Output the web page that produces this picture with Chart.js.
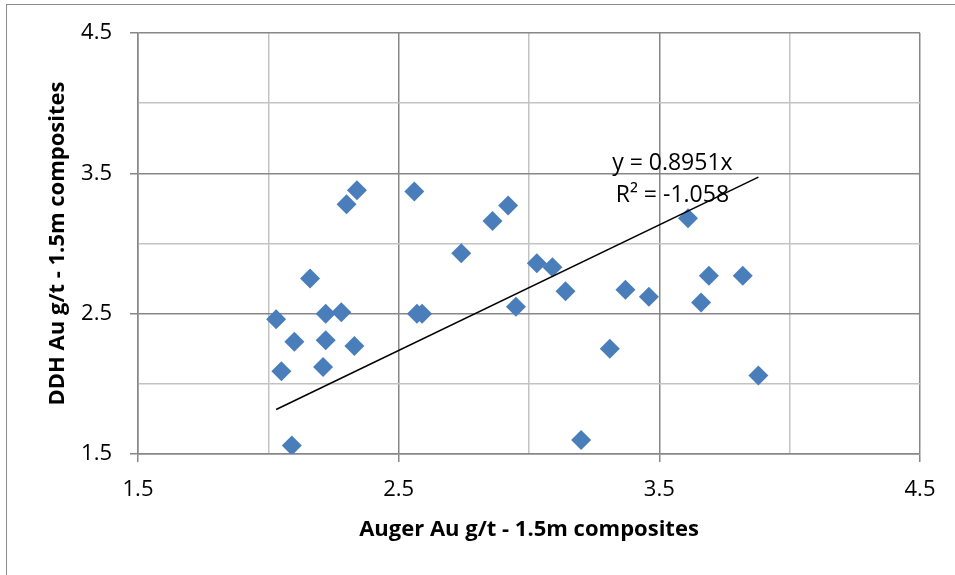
<!DOCTYPE html>
<html>
<head>
<meta charset="utf-8">
<script src="https://cdn.jsdelivr.net/npm/chart.js@4.4.1/dist/chart.umd.min.js"></script>
<style>
  html, body { margin: 0; padding: 0; background: #fff; }
  #wrap { position: relative; width: 955px; height: 575px; }
  #frame { position: absolute; left: 6px; top: 4px; right: -2px; bottom: -2px;
    border-left: 1.5px solid #8c8c8c; border-top: 1.5px solid #8c8c8c; pointer-events: none; }
</style>
</head>
<body>
<div id="wrap">
  <canvas id="chart" width="955" height="575"></canvas>
  <div id="frame"></div>
</div>
<script>
// Auger vs DDH composites (g/t Au)
const augerAu = [2.03, 2.05, 2.10, 2.09, 2.16, 2.22, 2.22, 2.21, 2.28, 2.33, 2.30, 2.34, 2.56, 2.57, 2.59, 2.74,
  2.86, 2.92, 3.03, 3.09, 2.95, 3.14, 3.37, 3.46, 3.31, 3.20, 3.61, 3.69, 3.82, 3.66, 3.88];
const ddhAu = [2.46, 2.09, 2.30, 1.56, 2.75, 2.50, 2.31, 2.12, 2.51, 2.27, 3.28, 3.38, 3.37, 2.50, 2.50, 2.93,
  3.16, 3.27, 2.86, 2.83, 2.55, 2.66, 2.67, 2.62, 2.25, 1.60, 3.18, 2.77, 2.77, 2.58, 2.06];

const trendSlope = 0.8951;
const trendLabel = ['y = 0.8951x', 'R\u00b2 = -1.058'];
const axisMin = 1.5, axisMax = 4.5;

const points = augerAu.map((x, i) => ({ x: x, y: ddhAu[i] }));
const xLo = Math.min(...augerAu), xHi = Math.max(...augerAu);
const trend = [{ x: xLo, y: trendSlope * xLo }, { x: xHi, y: trendSlope * xHi }];

const FONT = "'Open Sans', sans-serif";
const isMajor = v => Math.abs((v - axisMin) % 1) < 1e-6 || Math.abs((v - axisMin) % 1 - 1) < 1e-6;

function axis(title, titlePad, tickPad, size) {
  return {
    type: 'linear',
    min: axisMin,
    max: axisMax,
    afterFit: s => { if (s.isHorizontal()) s.height = size; else s.width = size; },
    ticks: {
      stepSize: 0.5,
      padding: tickPad,
      color: '#000',
      font: { family: FONT, size: 22 },
      callback: v => isMajor(v) ? v.toFixed(1) : ''
    },
    grid: {
      color: c => isMajor(c.tick.value) ? '#878787' : '#c3c3c3',
      tickColor: c => isMajor(c.tick.value) ? '#878787' : 'rgba(0,0,0,0)',
      lineWidth: 1.5,
      tickLength: 8
    },
    border: { color: '#878787', width: 1.5 },
    title: {
      display: true,
      text: title,
      color: '#000',
      padding: titlePad,
      font: { family: FONT, size: 22, weight: 'bold' }
    }
  };
}

const trendText = {
  id: 'trendText',
  afterDatasetsDraw(chart) {
    const { ctx, scales } = chart;
    ctx.save();
    ctx.fillStyle = '#000';
    ctx.font = "23px " + FONT;
    ctx.textAlign = 'center';
    ctx.textBaseline = 'middle';
    const x = scales.x.getPixelForValue(3.55);
    ctx.fillText(trendLabel[0], x, scales.y.getPixelForValue(3.573));
    ctx.fillText(trendLabel[1], x, scales.y.getPixelForValue(3.345));
    ctx.restore();
  }
};

new Chart(document.getElementById('chart').getContext('2d'), {
  type: 'scatter',
  data: {
    datasets: [
      {
        label: 'Trend',
        type: 'line',
        data: trend,
        borderColor: '#000',
        borderWidth: 1.5,
        pointRadius: 0,
        fill: false,
        order: 0
      },
      {
        label: 'DDH vs Auger',
        data: points,
        pointStyle: 'rectRot',
        pointRadius: 10,
        pointHoverRadius: 10,
        backgroundColor: '#4a7ebb',
        borderColor: '#4a7ebb',
        borderWidth: 0,
        order: 1
      }
    ]
  },
  options: {
    responsive: false,
    animation: false,
    layout: { padding: { left: 0, top: 33, right: 35, bottom: 0 } },
    plugins: { legend: { display: false }, tooltip: { enabled: false } },
    scales: {
      x: axis('Auger Au g/t - 1.5m composites', { top: 4, bottom: 32 }, 15, 121),
      y: axis('DDH Au g/t - 1.5m composites', { top: 45, bottom: 4 }, 18, 138)
    }
  },
  plugins: [trendText]
});
</script>
</body>
</html>
